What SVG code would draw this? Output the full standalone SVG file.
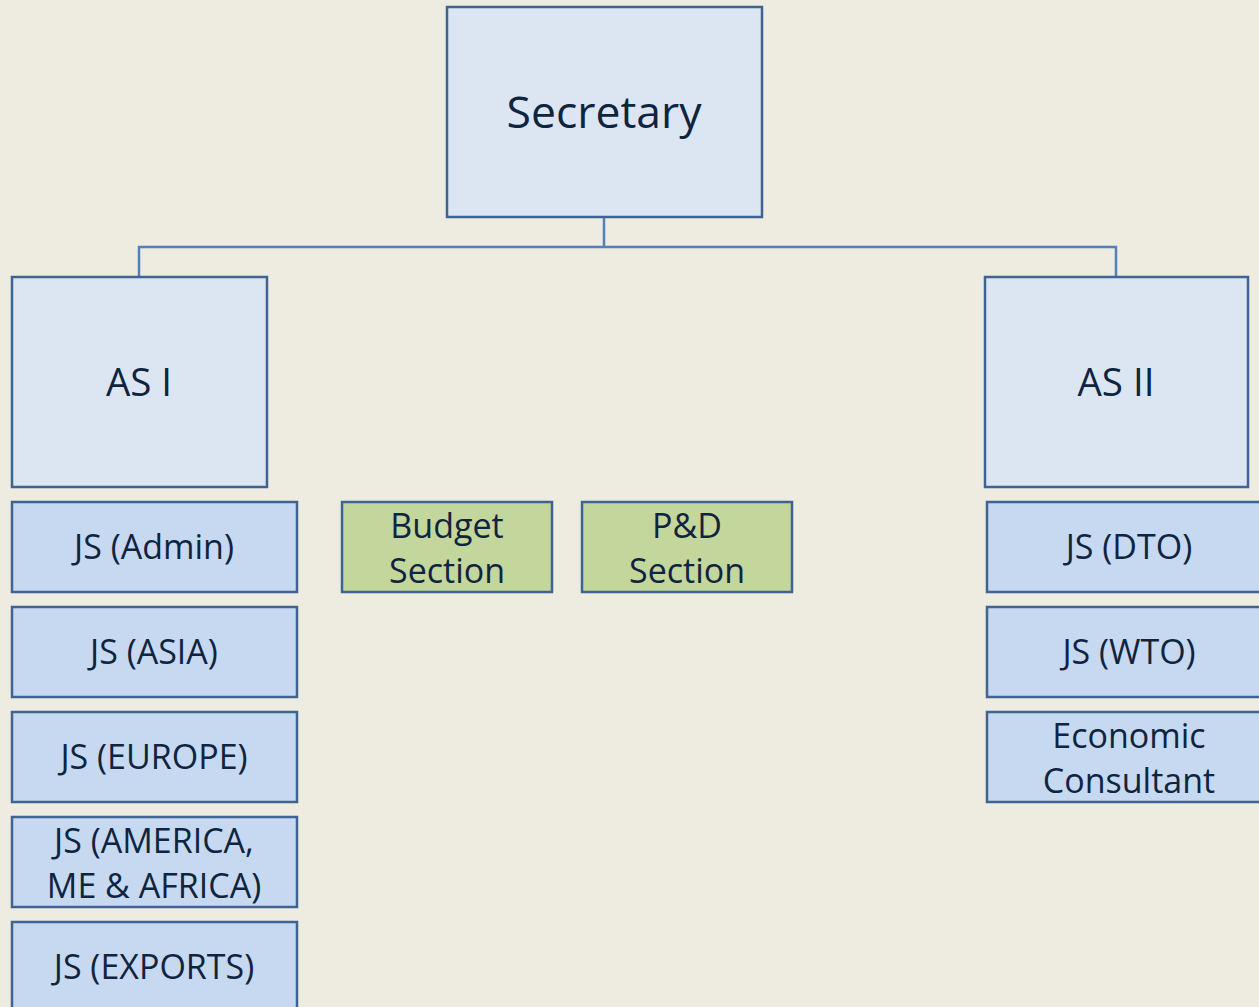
<svg xmlns="http://www.w3.org/2000/svg" width="1259" height="1007" viewBox="0 0 1259 1007">
<style>
.bg{fill:#EEEBE0}
.lt{fill:#DCE6F2;stroke:#3F6393;stroke-width:2.5}
.md{fill:#C6D9F1;stroke:#3F6393;stroke-width:2.5}
.gr{fill:#C3D69B;stroke:#3F6393;stroke-width:2.5}
.conn{fill:none;stroke:#4F81BD;stroke-width:2.5}
text{font-family:"Open Sans","Noto Sans","Liberation Sans",sans-serif;fill:#0F243E;text-anchor:middle}
.big{font-size:44.5px}
.as{font-size:38.5px}
.js{font-size:34px}
</style>
<rect class="bg" x="0" y="0" width="1259" height="1007"/>
<g id="connectors">
<path class="conn" d="M604,217 V247 M139,277 V247 H1116 V277"/>
</g>
<g id="secretary"><rect class="lt" x="447" y="7" width="315" height="210"/><text class="big" x="604" y="128">Secretary</text></g>
<g id="as1"><rect class="lt" x="12" y="277" width="255" height="210"/><text class="as" x="139" y="396">AS I</text></g>
<g id="as2"><rect class="lt" x="985" y="277" width="263" height="210"/><text class="as" x="1116" y="396">AS II</text></g>
<g id="js-admin"><rect class="md" x="12" y="502" width="285" height="90"/><text class="js" x="154" y="559">JS (Admin)</text></g>
<g id="js-asia"><rect class="md" x="12" y="607" width="285" height="90"/><text class="js" x="154" y="664">JS (ASIA)</text></g>
<g id="js-europe"><rect class="md" x="12" y="712" width="285" height="90"/><text class="js" x="154" y="769">JS (EUROPE)</text></g>
<g id="js-america"><rect class="md" x="12" y="817" width="285" height="90"/><text class="js" x="154" y="853">JS (AMERICA,</text><text class="js" x="154" y="898">ME &amp; AFRICA)</text></g>
<g id="js-exports"><rect class="md" x="12" y="922" width="285" height="100"/><text class="js" x="154" y="979">JS (EXPORTS)</text></g>
<g id="budget"><rect class="gr" x="342" y="502" width="210" height="90"/><text class="js" x="447" y="538">Budget</text><text class="js" x="447" y="583">Section</text></g>
<g id="pd"><rect class="gr" x="582" y="502" width="210" height="90"/><text class="js" x="687" y="538">P&amp;D</text><text class="js" x="687" y="583">Section</text></g>
<g id="js-dto"><rect class="md" x="987" y="502" width="290" height="90"/><text class="js" x="1129" y="559">JS (DTO)</text></g>
<g id="js-wto"><rect class="md" x="987" y="607" width="290" height="90"/><text class="js" x="1129" y="664">JS (WTO)</text></g>
<g id="econ"><rect class="md" x="987" y="712" width="290" height="90"/><text class="js" x="1129" y="748">Economic</text><text class="js" x="1129" y="793">Consultant</text></g>
</svg>
